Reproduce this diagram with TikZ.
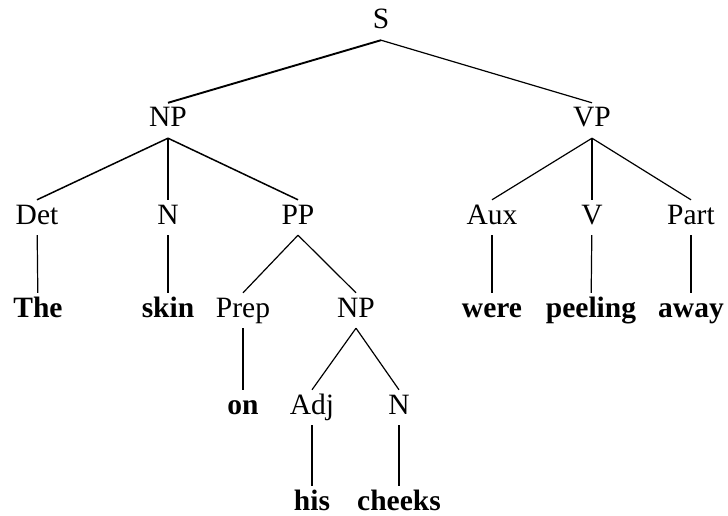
\documentclass[tikz,border=0pt]{standalone}
\usepackage{fontspec}
\setmainfont{Liberation Serif}
\usetikzlibrary{positioning}

\begin{document}
\begin{tikzpicture}[x=1pt,y=-1pt,
		cat/.style={anchor=base,font=\fontsize{29.5}{31}\selectfont,text height=20pt,text depth=7pt,inner ysep=4pt,inner xsep=0pt},
		word/.style={cat,font=\fontsize{29.5}{31}\selectfont\bfseries},
		branch/.style={line width=1.2pt}]
		\useasboundingbox (0,0) rectangle (728,516);
		\node[cat] (S) at (381,29) {S};
		\node[cat] (NP) at (168,127) {NP};
		\node[cat] (VP) at (592,127) {VP};

		\node[cat] (Det) at (37,224) {Det};
		\node[cat] (N) at (168,224) {N};
		\node[cat] (PP) at (298,224) {PP};
		\node[cat] (Aux) at (492,224) {Aux};
		\node[cat] (V) at (592,224) {V};
		\node[cat] (Part) at (691,224) {Part};

		\node[word] (The) at (38,317) {The};
		\node[word] (skin) at (168,317) {skin};
		\node[cat] (Prep) at (243,317) {Prep};
		\node[cat] (NP2) at (356,317) {NP};
		\node[word] (were) at (492,317) {were};
		\node[word] (peeling) at (591,317) {peeling};
		\node[word] (away) at (691,317) {away};

		\node[word] (on) at (243,414) {on};
		\node[cat] (Adj) at (312,414) {Adj};
		\node[cat] (N2) at (399,414) {N};

		\node[word] (his) at (312,510) {his};
		\node[word] (cheeks) at (399,510) {cheeks};

		% S
		\path[branch,line width=1.9pt] (S.south) edge (NP.north);
		\path[branch] (S.south) edge (VP.north);
		% subject
		\path[branch,line width=1.5pt] (NP.south) edge (Det.north) edge (PP.north);
		\path[branch] (NP.south) edge (N.north);
		\path[branch] (PP.south) edge (Prep.north) edge (NP2.north);
		\path[branch] (NP2.south) edge (Adj.north) edge (N2.north);
		% predicate
		\path[branch] (VP.south) edge (Aux.north) edge (V.north) edge (Part.north);
		% words
		\path[branch] (Det) edge (The) (N) edge (skin) (Prep) edge (on)
			(Adj) edge (his) (N2) edge (cheeks)
			(Aux) edge (were) (V) edge (peeling) (Part) edge (away);
	\end{tikzpicture}
\end{document}
